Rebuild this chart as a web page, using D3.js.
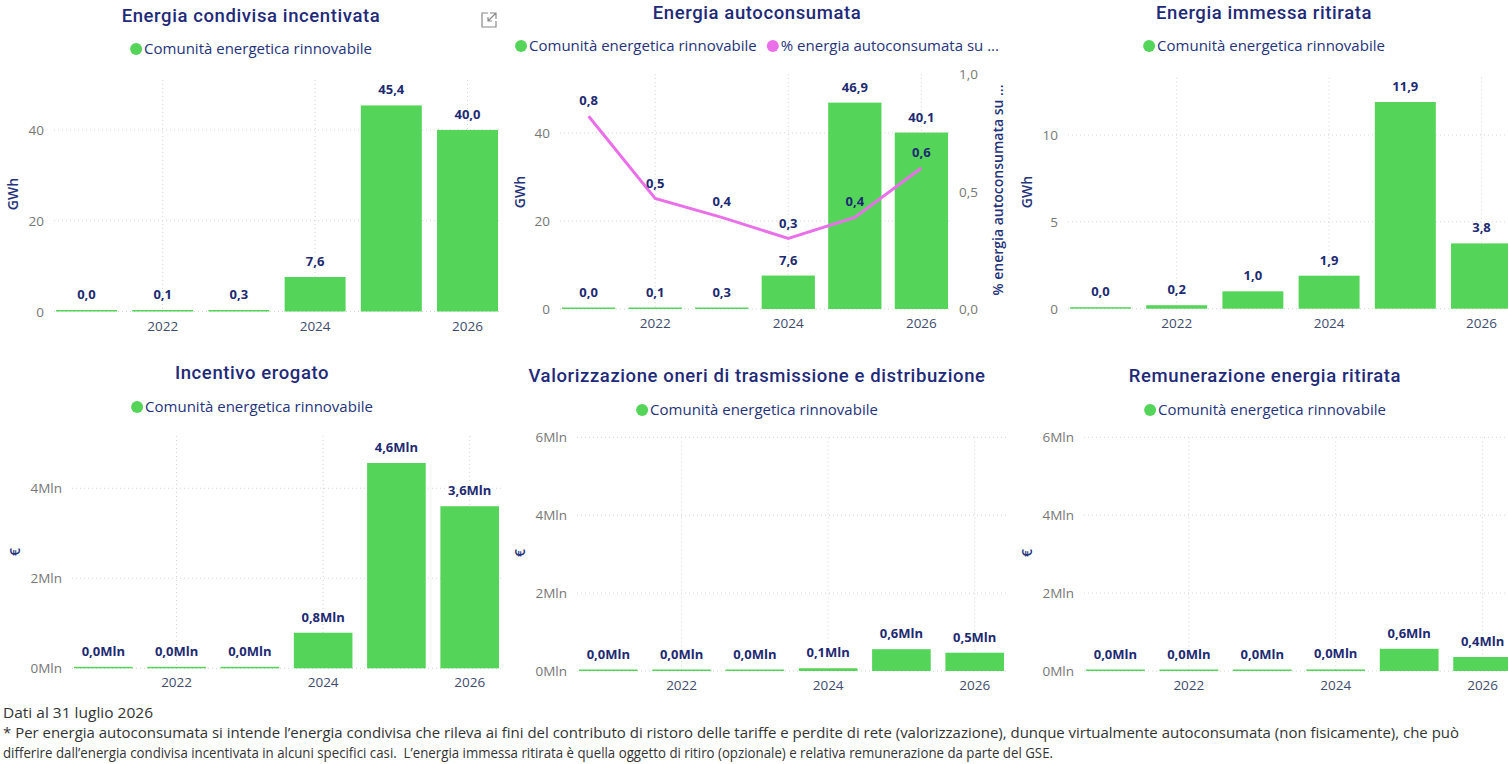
<!DOCTYPE html>
<html>
<head>
<meta charset="utf-8">
<script src="https://cdn.jsdelivr.net/npm/d3@7/dist/d3.min.js"></script>
<style>
body { margin: 0; background: #fff; overflow: hidden; }
svg { display: block; }
.title { font-family: Roboto, "Open Sans", sans-serif; font-weight: 500; font-size: 18.5px; letter-spacing: 0.6px; fill: #1f2a78; text-anchor: middle; }
.legend { font-family: "Open Sans", sans-serif; font-size: 15px; fill: #26337a; }
.ytick { font-family: "Open Sans", sans-serif; font-size: 13.5px; fill: #777; }
.xtick { font-family: "Open Sans", sans-serif; font-size: 13.5px; fill: #3e4b6e; text-anchor: middle; }
.axtitle { font-family: "Open Sans", sans-serif; font-size: 14px; font-weight: 600; fill: #26337a; text-anchor: middle; }
.dlabel { font-family: "Open Sans", sans-serif; font-size: 13px; font-weight: 700; fill: #1d2a72; text-anchor: middle; }
.grid { stroke: #d4d4d4; stroke-dasharray: 1 3; stroke-width: 1; }
.foot { font-family: "Liberation Sans Narrow", "Open Sans", sans-serif; font-size: 14.3px; fill: #333; white-space: pre; }
</style>
</head>
<body>
<svg width="1508" height="764"></svg>
<script>
// categories
const years = [2021, 2022, 2023, 2024, 2025, 2026];
const yearTicks = [2022, 2024, 2026];
const seriesName = "Comunità energetica rinnovabile";
const lineName = "% energia autoconsumata su ...";

// values (GWh, share, Mln €)
const energiaCondivisa = [0.04, 0.1, 0.3, 7.6, 45.4, 40.0];
const energiaAutoconsumata = [0.04, 0.1, 0.3, 7.6, 46.9, 40.1];
const quotaAutoconsumata = [0.82, 0.47, 0.39, 0.30, 0.39, 0.60];
const energiaRitirata = [0.03, 0.2, 1.0, 1.9, 11.9, 3.76];
const incentivoErogato = [0.01, 0.02, 0.03, 0.79, 4.56, 3.6];
const valorizzazioneOneri = [0.01, 0.01, 0.02, 0.07, 0.56, 0.47];
const remunerazioneRitirata = [0.01, 0.01, 0.02, 0.04, 0.57, 0.36];

// tick labels
const gwhTicks1 = [0, 20, 40];
const gwhTicks3 = [0, 5, 10];
const shareTicks = [0, 0.5, 1];
const mlnTicks4 = [0, 2, 4];
const mlnTicks6 = [0, 2, 4, 6];

const green = "#55d45a";
const pink = "#ea70ea";

const svg = d3.select("svg");
const comma = v => v.toFixed(1).replace(".", ",");

function drawLegend(cx, cy, items) {
    let g = svg.append("g");
    let x = 0;
    items.forEach((it) => {
        g.append("circle").attr("cx", x + 6).attr("cy", 0).attr("r", 6).style("fill", it.color);
        let t = g.append("text").attr("class", "legend").attr("x", x + 14).attr("y", 5).text(it.label);
        x += 14 + t.node().getComputedTextLength() + 10;
    });
    let w = x - 10;
    g.attr("transform", "translate(" + (cx - w / 2) + "," + cy + ")");
}

function drawPanel(c) {
    let x = d3.scaleBand().domain(years).range(c.xr).paddingInner(0.2).paddingOuter(0);
    let y = d3.scaleLinear().domain([0, c.yMax]).range([c.y0, c.yTop]);
    let g = svg.append("g");

    // horizontal grid
    g.selectAll(".hg").data(c.ticks).enter().append("line")
        .attr("class", "grid")
        .attr("x1", c.xr[0] - 2).attr("x2", c.xr[1] + 2)
        .attr("y1", d => y(d)).attr("y2", d => y(d));
    // vertical grid at labelled years
    g.selectAll(".vg").data(yearTicks).enter().append("line")
        .attr("class", "grid")
        .attr("x1", d => x(d) + x.bandwidth() / 2).attr("x2", d => x(d) + x.bandwidth() / 2)
        .attr("y1", c.yTop).attr("y2", c.y0);

    // y tick labels
    g.selectAll(".yt").data(c.ticks).enter().append("text")
        .attr("class", "ytick")
        .attr("x", c.xr[0] - 12).attr("y", d => y(d) + 5)
        .style("text-anchor", "end")
        .text(c.tickFmt);

    // x tick labels
    g.selectAll(".xt").data(yearTicks).enter().append("text")
        .attr("class", "xtick")
        .attr("x", d => x(d) + x.bandwidth() / 2).attr("y", c.y0 + 19)
        .text(d => d);

    // bars
    let data = years.map((yr, i) => ({ year: yr, value: c.values[i] }));
    g.selectAll(".bar").data(data).enter().append("rect")
        .attr("x", d => x(d.year)).attr("width", x.bandwidth())
        .attr("y", d => Math.min(y(d.value), c.y0 - 1.5))
        .attr("height", d => Math.max(c.y0 - y(d.value), 1.5))
        .style("fill", green);

    // data labels
    g.selectAll(".dl").data(data).enter().append("text")
        .attr("class", "dlabel")
        .attr("x", d => x(d.year) + x.bandwidth() / 2)
        .attr("y", d => Math.min(y(d.value), c.y0 - 1.5) - 11)
        .text(d => comma(d.value) + c.suffix);

    // axis title
    g.append("text").attr("class", "axtitle")
        .attr("transform", "translate(" + c.axX + "," + c.axY + ") rotate(-90)")
        .attr("dy", "0.35em")
        .text(c.axTitle);

    // title + legend
    g.append("text").attr("class", "title").attr("x", c.cx).attr("y", c.titleY).text(c.title);
    drawLegend(c.cx, c.legendY, c.legend || [{ label: seriesName, color: green }]);

    return { x: x, y: y, g: g };
}

// top row
drawPanel({ title: "Energia condivisa incentivata", cx: 251, titleY: 22, legendY: 49,
    xr: [56, 498], y0: 311.5, yTop: 80, yMax: 51, ticks: gwhTicks1, tickFmt: d => d,
    values: energiaCondivisa, suffix: "", axTitle: "GWh", axX: 13, axY: 194 });

let p2 = drawPanel({ title: "Energia autoconsumata", cx: 757, titleY: 19, legendY: 46,
    xr: [562, 948], y0: 309, yTop: 74, yMax: 53.4, ticks: gwhTicks1, tickFmt: d => d,
    values: energiaAutoconsumata, suffix: "", axTitle: "GWh", axX: 520, axY: 192,
    legend: [{ label: seriesName, color: green }, { label: lineName, color: pink }] });

// secondary axis + line for share of self-consumption
let y2 = d3.scaleLinear().domain([0, 1]).range([309, 74]);
p2.g.selectAll(".rt").data(shareTicks).enter().append("text")
    .attr("class", "ytick")
    .attr("x", 959).attr("y", d => y2(d) + 5)
    .text(d => comma(d));
p2.g.append("text").attr("class", "axtitle")
    .attr("transform", "translate(998,190) rotate(-90)")
    .attr("dy", "0.35em")
    .text("% energia autoconsumata su ...");
let lineData = years.map((yr, i) => ({ year: yr, value: quotaAutoconsumata[i] }));
let cxOf = d => p2.x(d.year) + p2.x.bandwidth() / 2;
p2.g.append("path").datum(lineData)
    .attr("d", d3.line().x(cxOf).y(d => y2(d.value)))
    .style("fill", "none").style("stroke", pink).style("stroke-width", 3);
p2.g.selectAll(".ll").data(lineData).enter().append("text")
    .attr("class", "dlabel")
    .attr("x", cxOf).attr("y", d => y2(d.value) - 11)
    .text(d => comma(d.value));

drawPanel({ title: "Energia immessa ritirata", cx: 1264, titleY: 19, legendY: 46,
    xr: [1070, 1512], y0: 308.7, yTop: 77.7, yMax: 13.3, ticks: gwhTicks3, tickFmt: d => d,
    values: energiaRitirata, suffix: "", axTitle: "GWh", axX: 1027, axY: 192 });

// bottom row
drawPanel({ title: "Incentivo erogato", cx: 252, titleY: 379, legendY: 407,
    xr: [74, 499], y0: 668.3, yTop: 436, yMax: 5.16, ticks: mlnTicks4, tickFmt: d => d + "Mln",
    values: incentivoErogato, suffix: "Mln", axTitle: "€", axX: 15, axY: 552 });

drawPanel({ title: "Valorizzazione oneri di trasmissione e distribuzione", cx: 757, titleY: 382, legendY: 410,
    xr: [579, 1004], y0: 671, yTop: 437.3, yMax: 6, ticks: mlnTicks6, tickFmt: d => d + "Mln",
    values: valorizzazioneOneri, suffix: "Mln", axTitle: "€", axX: 520, axY: 553 });

drawPanel({ title: "Remunerazione energia ritirata", cx: 1265, titleY: 382, legendY: 410,
    xr: [1086, 1512], y0: 671, yTop: 437.3, yMax: 6, ticks: mlnTicks6, tickFmt: d => d + "Mln",
    values: remunerazioneRitirata, suffix: "Mln", axTitle: "€", axX: 1027, axY: 553 });

// focus-mode icon on first visual
svg.append("path")
    .attr("d", "M488,13 H482 V27 H496 V21 M490,13 H496 V19 M496,13 L488,21 M488,17 V21 H492")
    .style("fill", "none").style("stroke", "#8a8a8a").style("stroke-width", 1.2);

// footnote
const footLines = [
    { text: "Dati al 31 luglio 2026", y: 718, w: 150 },
    { text: "* Per energia autoconsumata si intende l’energia condivisa che rileva ai fini del contributo di ristoro delle tariffe e perdite di rete (valorizzazione), dunque virtualmente autoconsumata (non fisicamente), che può", y: 738, w: 1456 },
    { text: "differire dall’energia condivisa incentivata in alcuni specifici casi.  L’energia immessa ritirata è quella oggetto di ritiro (opzionale) e relativa remunerazione da parte del GSE.", y: 758, w: 1050 }
];
svg.selectAll(".foot").data(footLines).enter().append("text")
    .attr("class", "foot")
    .attr("x", 3).attr("y", d => d.y)
    .attr("textLength", d => d.w).attr("lengthAdjust", "spacingAndGlyphs")
    .text(d => d.text);
</script>
</body>
</html>
